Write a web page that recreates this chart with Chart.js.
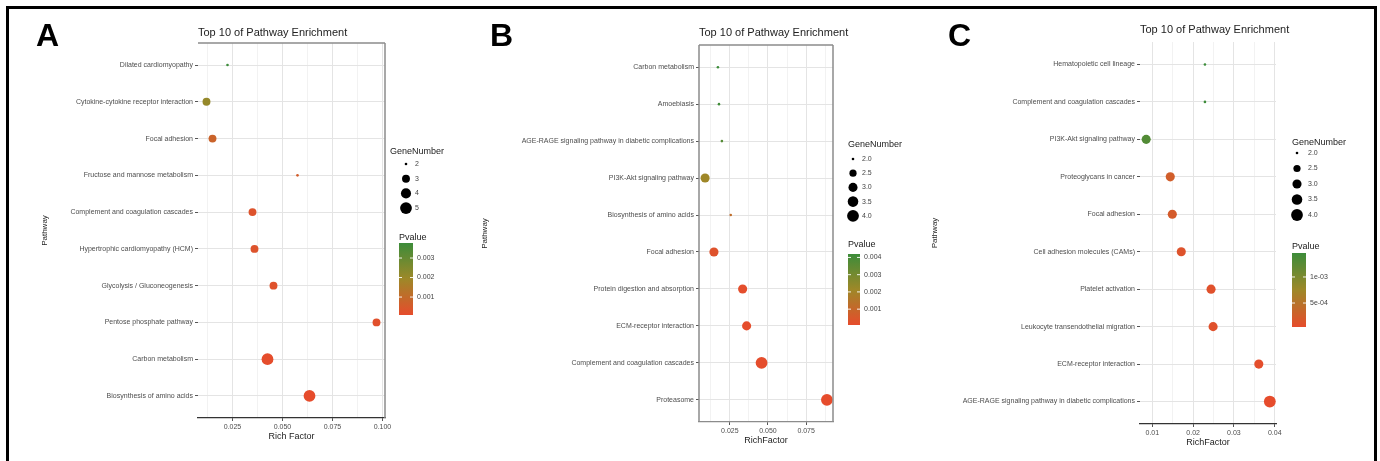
<!DOCTYPE html>
<html>
<head>
<meta charset="utf-8">
<script src="https://cdn.jsdelivr.net/npm/chart.js@4.4.1/dist/chart.umd.min.js"></script>
<style>
html, body { margin: 0; padding: 0; background: #fff; }
#wrap { position: relative; width: 1380px; height: 461px; overflow: hidden; background: #fff; }
#frame { position: absolute; left: 6px; top: 6px; width: 1371px; height: 480px; border: 3px solid #000; box-sizing: border-box; }
canvas { position: absolute; top: 0; }
.letter { position: absolute; top: 19px; font: bold 32px "Liberation Sans", Arial, sans-serif; line-height: 32px; color: #000; }
</style>
</head>
<body>
<div id="wrap">
  <div id="frame"></div>
  <canvas id="chartA" width="460" height="461" style="left:0px"></canvas>
  <canvas id="chartB" width="455" height="461" style="left:460px"></canvas>
  <canvas id="chartC" width="465" height="461" style="left:915px"></canvas>
  <div class="letter" style="left:36px">A</div>
  <div class="letter" style="left:490px">B</div>
  <div class="letter" style="left:948px">C</div>
</div>
<script>
// ---- panel A ----
let aPathway = ['Dilated cardiomyopathy', 'Cytokine-cytokine receptor interaction', 'Focal adhesion',
  'Fructose and mannose metabolism', 'Complement and coagulation cascades', 'Hypertrophic cardiomyopathy (HCM)',
  'Glycolysis / Gluconeogenesis', 'Pentose phosphate pathway', 'Carbon metabolism', 'Biosynthesis of amino acids'];
let aRichFactor = [0.0225, 0.012, 0.015, 0.0575, 0.035, 0.036, 0.0455, 0.097, 0.0425, 0.0635];
let aGeneNumber = [2, 3, 3, 2, 3, 3, 3, 3, 5, 5];
let aPvalue = [0.00377, 0.0021, 0.0008, 0.0006, 0.0003, 0.0003, 0.00025, 0.0002, 0.0001, 0.00008];
let aXTicks = [0.025, 0.05, 0.075, 0.1];
let aXTickLabels = ['0.025', '0.050', '0.075', '0.100'];
let aSizeBreaks = [2, 3, 4, 5];
let aPBreaks = [0.001, 0.002, 0.003];
let aPLabels = ['0.001', '0.002', '0.003'];

// ---- panel B ----
let bPathway = ['Carbon metabolism', 'Amoebiasis', 'AGE-RAGE signaling pathway in diabetic complications',
  'PI3K-Akt signaling pathway', 'Biosynthesis of amino acids', 'Focal adhesion', 'Protein digestion and absorption',
  'ECM-receptor interaction', 'Complement and coagulation cascades', 'Proteasome'];
let bRichFactor = [0.0172, 0.0179, 0.0198, 0.0088, 0.0256, 0.0146, 0.0334, 0.036, 0.0458, 0.0886];
let bGeneNumber = [2, 2, 2, 3, 2, 3, 3, 3, 4, 4];
let bPvalue = [0.0042, 0.0041, 0.0037, 0.0021, 0.0012, 0.0003, 0.00015, 0.00012, 0.0001, 0.00008];
let bXTicks = [0.025, 0.05, 0.075];
let bXTickLabels = ['0.025', '0.050', '0.075'];
let bSizeBreaks = [2.0, 2.5, 3.0, 3.5, 4.0];
let bPBreaks = [0.001, 0.002, 0.003, 0.004];
let bPLabels = ['0.001', '0.002', '0.003', '0.004'];

// ---- panel C ----
let cPathway = ['Hematopoietic cell lineage', 'Complement and coagulation cascades', 'PI3K-Akt signaling pathway',
  'Proteoglycans in cancer', 'Focal adhesion', 'Cell adhesion molecules (CAMs)', 'Platelet activation',
  'Leukocyte transendothelial migration', 'ECM-receptor interaction',
  'AGE-RAGE signaling pathway in diabetic complications'];
let cRichFactor = [0.0229, 0.0229, 0.0085, 0.0144, 0.0149, 0.0171, 0.0244, 0.0249, 0.0361, 0.0388];
let cGeneNumber = [2, 2, 3, 3, 3, 3, 3, 3, 3, 4];
let cPvalue = [0.00146, 0.00145, 0.0013, 0.00025, 0.00022, 0.00012, 0.0001, 0.0001, 0.00006, 0.00004];
let cXTicks = [0.01, 0.02, 0.03, 0.04];
let cXTickLabels = ['0.01', '0.02', '0.03', '0.04'];
let cSizeBreaks = [2.0, 2.5, 3.0, 3.5, 4.0];
let cPBreaks = [0.0005, 0.001];
let cPLabels = ['5e-04', '1e-03'];

const FONT = '"Liberation Sans", Arial, sans-serif';
Chart.defaults.font.family = FONT;

let LOW = [230, 76, 44], MID = [158, 136, 40], HIGH = [60, 140, 58];
let mix = (a, b, t) => a.map((v, i) => Math.round(v + (b[i] - v) * t));
let pColor = (p, min, max) => {
    let t = Math.max(0, Math.min(1, (p - min) / (max - min)));
    let c = t < 0.5 ? mix(LOW, MID, t * 2) : mix(MID, HIGH, (t - 0.5) * 2);
    return 'rgb(' + c.join(',') + ')';
};
let radius = (n, min, max) => 1.3 + Math.sqrt((n - min) / (max - min)) * 4.6;

// legends, title and panel border drawn on the canvas
let makeDecor = (p, L) => ({
    id: 'decor',
    afterDraw(chart) {
        let ctx = chart.ctx, a = chart.chartArea;
        let gMin = Math.min(...p.genes), gMax = Math.max(...p.genes);
        let pMin = Math.min(...p.pvals), pMax = Math.max(...p.pvals);
        ctx.save();
        ctx.textBaseline = 'middle';
        ctx.textAlign = 'left';
        ctx.fillStyle = '#222';
        ctx.font = '11px ' + FONT;
        ctx.fillText('Top 10 of Pathway Enrichment', a.left, L.titleY);

        ctx.strokeStyle = '#8c8c8c';
        ctx.lineWidth = 1.5;
        ctx.beginPath();
        if (L.box.includes('t')) { ctx.moveTo(a.left, a.top); ctx.lineTo(a.right, a.top); }
        if (L.box.includes('r')) { ctx.moveTo(a.right, a.top); ctx.lineTo(a.right, a.bottom); }
        if (L.box.includes('l')) { ctx.moveTo(a.left, a.top); ctx.lineTo(a.left, a.bottom); }
        ctx.stroke();

        // GeneNumber
        ctx.fillStyle = '#222';
        ctx.font = '9px ' + FONT;
        ctx.fillText('GeneNumber', a.right + L.gx, L.gy);
        ctx.font = '7px ' + FONT;
        p.sizeBreaks.forEach((s, i) => {
            let y = L.keyY0 + i * L.keyDY;
            ctx.fillStyle = '#000';
            ctx.beginPath();
            ctx.arc(a.right + L.keyX, y, radius(s, gMin, gMax), 0, Math.PI * 2);
            ctx.fill();
            ctx.fillStyle = '#444';
            ctx.fillText(p.sizeLabels[i], a.right + L.labX, y);
        });

        // Pvalue colour bar
        ctx.fillStyle = '#222';
        ctx.font = '9px ' + FONT;
        ctx.fillText('Pvalue', a.right + L.px, L.py);
        let bx = a.right + L.px;
        let grad = ctx.createLinearGradient(0, L.barBot, 0, L.barTop);
        for (let k = 0; k <= 10; k++) {
            grad.addColorStop(k / 10, pColor(pMin + (pMax - pMin) * k / 10, pMin, pMax));
        }
        ctx.fillStyle = grad;
        ctx.fillRect(bx, L.barTop, L.barW, L.barBot - L.barTop);
        ctx.font = '7px ' + FONT;
        p.pBreaks.forEach((v, i) => {
            let y = L.barBot - (v - pMin) / (pMax - pMin) * (L.barBot - L.barTop);
            ctx.strokeStyle = 'rgba(255,255,255,0.9)';
            ctx.lineWidth = 1;
            ctx.beginPath();
            ctx.moveTo(bx, y); ctx.lineTo(bx + 3, y);
            ctx.moveTo(bx + L.barW - 3, y); ctx.lineTo(bx + L.barW, y);
            ctx.stroke();
            ctx.fillStyle = '#444';
            ctx.fillText(p.pLabels[i], bx + L.barW + 4, y);
        });
        ctx.restore();
    }
});

let makePanel = (id, p, L) => {
    let ctx = document.getElementById(id).getContext('2d');
    let rMin = Math.min(...p.rich), rMax = Math.max(...p.rich);
    let xMin = rMin - (rMax - rMin) * 0.05, xMax = rMax + (rMax - rMin) * 0.05;
    let gMin = Math.min(...p.genes), gMax = Math.max(...p.genes);
    let pMin = Math.min(...p.pvals), pMax = Math.max(...p.pvals);
    let n = p.paths.length;
    // major + minor grid positions
    let half = (p.xTicks[1] - p.xTicks[0]) / 2;
    let k0 = Math.ceil((xMin - p.xTicks[0]) / half - 1e-9);
    let k1 = Math.floor((xMax - p.xTicks[0]) / half + 1e-9);
    let xGrid = [];
    for (let k = k0; k <= k1; k++) xGrid.push({ value: p.xTicks[0] + k * half, major: k % 2 === 0 });
    let isMajor = v => xGrid.some(g => g.major && Math.abs(g.value - v) < 1e-9);

    return new Chart(ctx, {
        type: 'scatter',
        data: {
            datasets: [{
                data: p.rich.map((r, i) => ({ x: r, y: i })),
                pointRadius: p.genes.map(g => radius(g, gMin, gMax)),
                pointBackgroundColor: p.pvals.map(v => pColor(v, pMin, pMax)),
                pointBorderWidth: 0,
                clip: false
            }]
        },
        options: {
            responsive: false,
            animation: false,
            events: [],
            layout: { padding: { left: L.padL, top: L.padT, right: L.padR, bottom: 0 } },
            plugins: { legend: { display: false }, tooltip: { enabled: false } },
            scales: {
                x: {
                    type: 'linear', min: xMin, max: xMax, bounds: 'data',
                    afterBuildTicks: s => { s.ticks = xGrid.map(g => ({ value: g.value })); },
                    afterFit: s => { s.height = L.xH; },
                    ticks: {
                        autoSkip: false, maxRotation: 0, padding: 2, color: '#4d4d4d', font: { size: 7 },
                        callback: v => {
                            let k = p.xTicks.findIndex(m => Math.abs(m - v) < 1e-9);
                            return k < 0 ? '' : p.xLabels[k];
                        }
                    },
                    grid: {
                        color: c => isMajor(c.tick.value) ? '#e4e4e4' : '#f2f2f2',
                        tickColor: c => isMajor(c.tick.value) ? '#555' : 'rgba(0,0,0,0)',
                        tickLength: 3
                    },
                    border: { display: true, color: L.xLine, width: 1.2 },
                    title: { display: true, text: p.xTitle, color: '#222', font: { size: 9 },
                        padding: { top: 0, bottom: L.xTitlePad } }
                },
                y: {
                    type: 'linear', min: -0.6, max: n - 1 + 0.6, reverse: true, bounds: 'data',
                    afterBuildTicks: s => { s.ticks = p.paths.map((_, i) => ({ value: i })); },
                    afterFit: s => { s.width = L.yW; },
                    ticks: { autoSkip: false, padding: 2, color: '#4d4d4d', font: { size: 7 },
                        callback: v => p.paths[v] },
                    grid: { color: '#e4e4e4', tickColor: '#555', tickLength: 3 },
                    border: { display: false },
                    title: { display: true, text: 'Pathway', color: '#222', font: { size: 8 },
                        padding: { top: 4, bottom: 0 } }
                }
            }
        },
        plugins: [makeDecor(p, L)]
    });
};

makePanel('chartA', {
    paths: aPathway, rich: aRichFactor, genes: aGeneNumber, pvals: aPvalue,
    xTicks: aXTicks, xLabels: aXTickLabels, xTitle: 'Rich Factor',
    sizeBreaks: aSizeBreaks, sizeLabels: aSizeBreaks.map(String), pBreaks: aPBreaks, pLabels: aPLabels
}, { padL: 36, yW: 162, padT: 43, padR: 75, xH: 43, xTitlePad: 19, xLine: '#333', box: 'tr',
     titleY: 33, gx: 5, gy: 152, keyX: 21, keyY0: 164, keyDY: 14.7, labX: 30,
     px: 14, py: 238, barTop: 243, barBot: 315, barW: 14 });

makePanel('chartB', {
    paths: bPathway, rich: bRichFactor, genes: bGeneNumber, pvals: bPvalue,
    xTicks: bXTicks, xLabels: bXTickLabels, xTitle: 'RichFactor',
    sizeBreaks: bSizeBreaks, sizeLabels: bSizeBreaks.map(v => v.toFixed(1)), pBreaks: bPBreaks, pLabels: bPLabels
}, { padL: 16, yW: 223, padT: 45, padR: 82, xH: 39, xTitlePad: 15, xLine: '#8c8c8c', box: 'trl',
     titleY: 33, gx: 15, gy: 145, keyX: 20, keyY0: 159, keyDY: 14.2, labX: 29,
     px: 15, py: 245, barTop: 254, barBot: 325, barW: 12 });

makePanel('chartC', {
    paths: cPathway, rich: cRichFactor, genes: cGeneNumber, pvals: cPvalue,
    xTicks: cXTicks, xLabels: cXTickLabels, xTitle: 'RichFactor',
    sizeBreaks: cSizeBreaks, sizeLabels: cSizeBreaks.map(v => v.toFixed(1)), pBreaks: cPBreaks, pLabels: cPLabels
}, { padL: 11, yW: 214, padT: 42, padR: 104, xH: 37, xTitlePad: 13, xLine: '#333', box: '',
     titleY: 30, gx: 16, gy: 143, keyX: 21, keyY0: 153, keyDY: 15.5, labX: 32,
     px: 16, py: 247, barTop: 253, barBot: 327, barW: 14 });
</script>
</body>
</html>
